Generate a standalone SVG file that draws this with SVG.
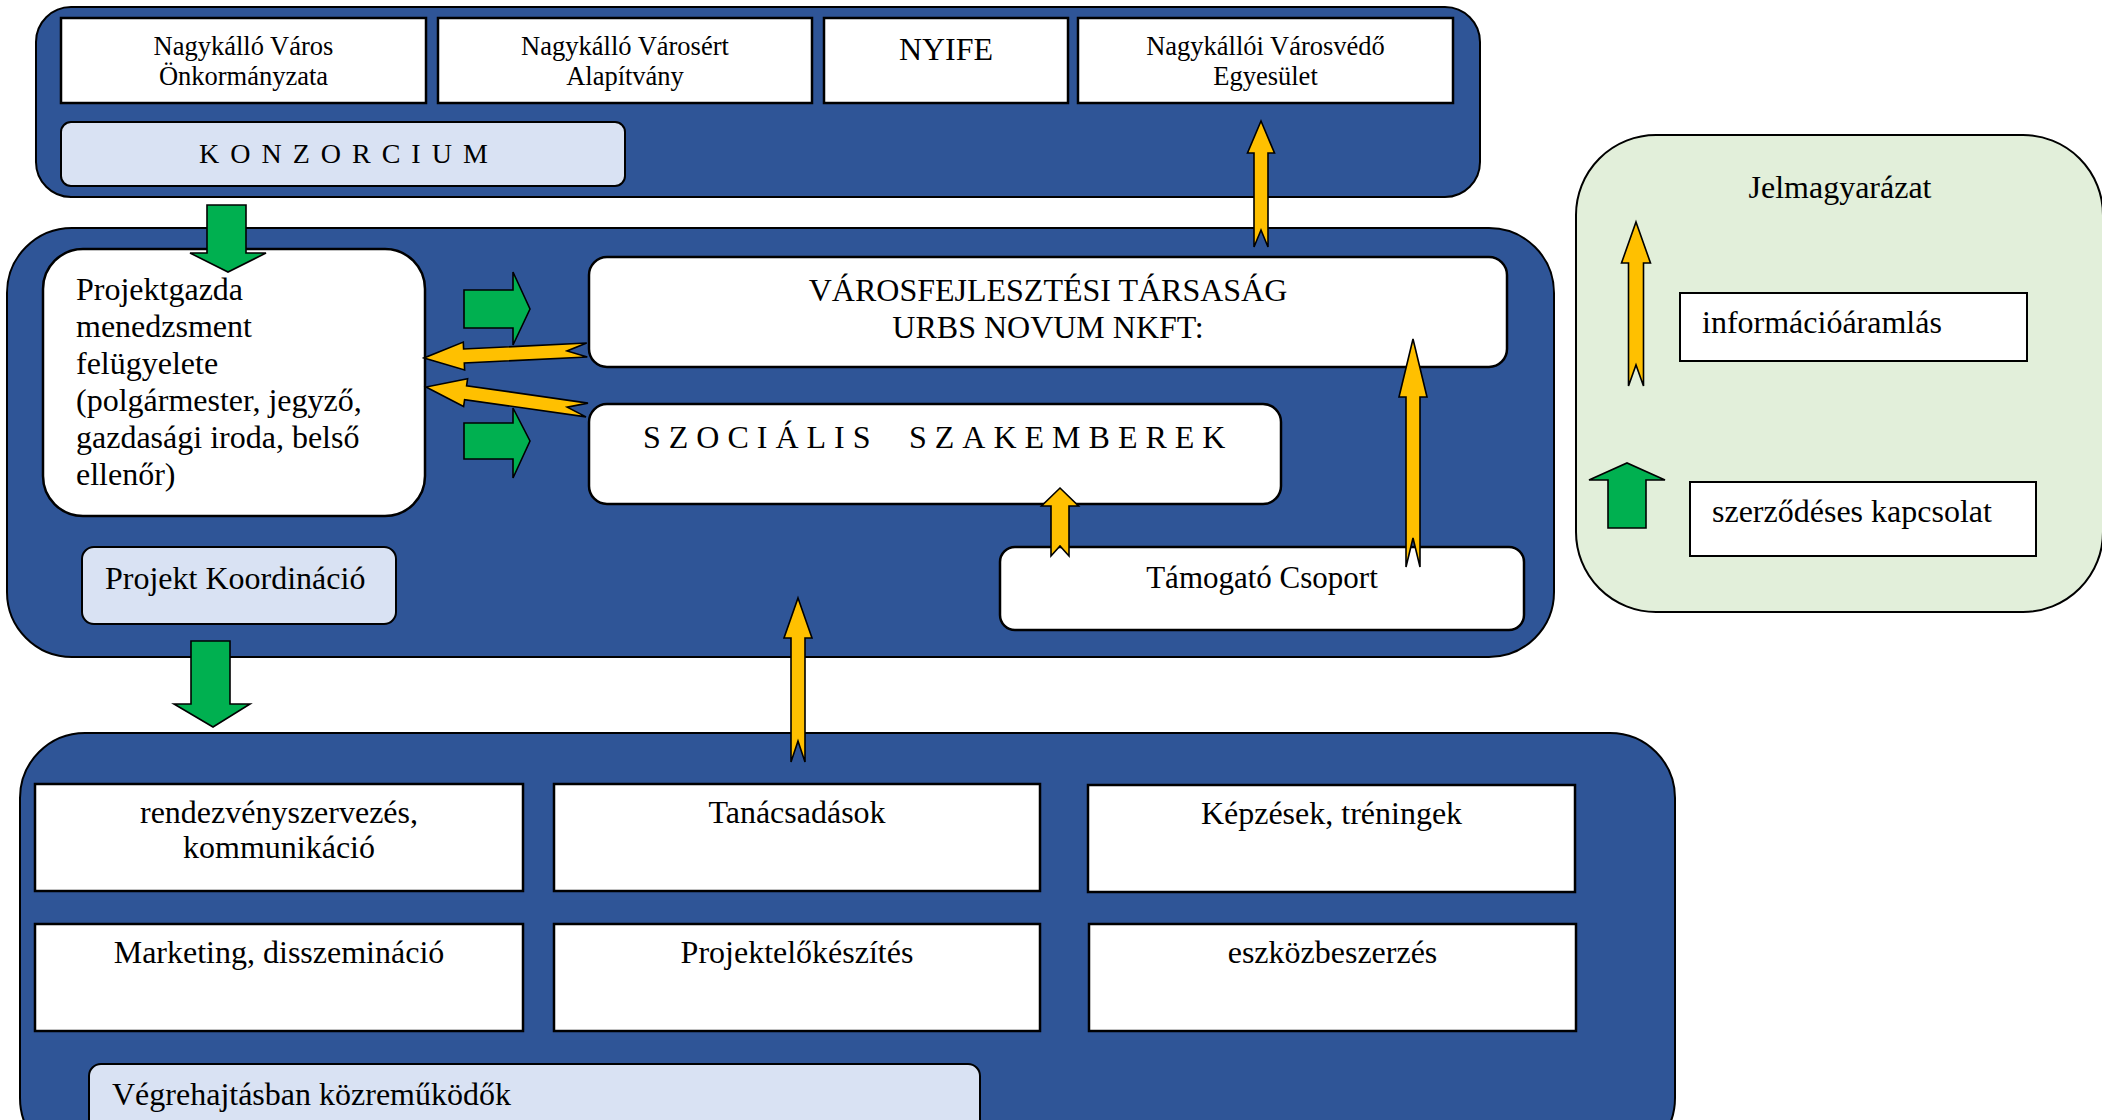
<svg xmlns="http://www.w3.org/2000/svg" width="2102" height="1120" viewBox="0 0 2102 1120">
<style>
text{font-family:"Liberation Serif","Times New Roman",serif;fill:#000}
.panel{fill:#2F5597;stroke:#000;stroke-width:2}
.box{fill:#fff;stroke:#000;stroke-width:2.5}
.lbl{fill:#D9E2F3;stroke:#000;stroke-width:2}
.legend{fill:#E2EFDA;stroke:#000;stroke-width:2}
.lbox{fill:#fff;stroke:#000;stroke-width:2}
.info{fill:#FFC000;stroke:#000;stroke-width:1.6;stroke-linejoin:miter}
.contract{fill:#00B050;stroke:#000;stroke-width:1.6}
.c{text-anchor:middle}
.s26{font-size:26.5px}
.s32{font-size:32px}
</style>
<rect width="2102" height="1120" fill="#fff"/>

<g id="konzorcium-panel">
<rect class="panel" x="36" y="7" width="1444" height="190" rx="35"/>
</g>
<g id="onkormanyzat">
<rect class="box" x="61" y="18" width="365" height="85"/>
<text class="c s26" x="243.5" y="55">Nagykálló Város</text>
<text class="c s26" x="243.5" y="85">Önkormányzata</text>
</g>
<g id="alapitvany">
<rect class="box" x="438" y="18" width="374" height="85"/>
<text class="c s26" x="625" y="55">Nagykálló Városért</text>
<text class="c s26" x="625" y="85">Alapítvány</text>
</g>
<g id="nyife">
<rect class="box" x="824" y="18" width="244" height="85"/>
<text class="c s32" x="946" y="60">NYIFE</text>
</g>
<g id="varosvedo">
<rect class="box" x="1078" y="18" width="375" height="85"/>
<text class="c s26" x="1265.5" y="55">Nagykállói Városvédő</text>
<text class="c s26" x="1265.5" y="85">Egyesület</text>
</g>
<g id="konzorcium-label">
<rect class="lbl" x="61" y="122" width="564" height="64" rx="10"/>
<text x="199" y="163" style="font-size:28px;letter-spacing:11px">KONZORCIUM</text>
</g>

<g id="koordinacio-panel">
<rect class="panel" x="7" y="228" width="1547" height="429" rx="65"/>
</g>
<g id="projektgazda">
<rect class="box" x="43" y="249" width="382" height="267" rx="40"/>
<text class="s32" x="76" y="300">Projektgazda</text>
<text class="s32" x="76" y="337">menedzsment</text>
<text class="s32" x="76" y="374">felügyelete</text>
<text class="s32" x="76" y="411">(polgármester, jegyző,</text>
<text class="s32" x="76" y="448">gazdasági iroda, belső</text>
<text class="s32" x="76" y="485">ellenőr)</text>
</g>
<g id="varosfejlesztesi">
<rect class="box" x="589" y="257" width="918" height="110" rx="18"/>
<text class="c s32" x="1048" y="301">VÁROSFEJLESZTÉSI TÁRSASÁG</text>
<text class="c s32" x="1048" y="338">URBS NOVUM NKFT:</text>
</g>
<g id="szocialis">
<rect class="box" x="589" y="404" width="692" height="100" rx="18"/>
<text class="s32" y="448" style="letter-spacing:8px"><tspan x="643">SZOCIÁLIS</tspan><tspan x="909">SZAKEMBEREK</tspan></text>
</g>
<g id="tamogato">
<rect class="box" x="1000" y="547" width="524" height="83" rx="15"/>
<text class="c" x="1262" y="588" style="font-size:31px">Támogató Csoport</text>
</g>
<g id="projekt-koordinacio">
<rect class="lbl" x="82" y="547" width="314" height="77" rx="12"/>
<text class="s32" x="105" y="589">Projekt Koordináció</text>
</g>

<g id="vegrehajtas-panel">
<rect class="panel" x="20" y="733" width="1655" height="430" rx="65"/>
</g>
<g id="rendezveny">
<rect class="box" x="35" y="784" width="488" height="107"/>
<text class="c s32" x="279" y="823">rendezvényszervezés,</text>
<text class="c s32" x="279" y="858">kommunikáció</text>
</g>
<g id="tanacsadasok">
<rect class="box" x="554" y="784" width="486" height="107"/>
<text class="c s32" x="797" y="823">Tanácsadások</text>
</g>
<g id="kepzesek">
<rect class="box" x="1088" y="785" width="487" height="107"/>
<text class="c s32" x="1331.5" y="824">Képzések, tréningek</text>
</g>
<g id="marketing">
<rect class="box" x="35" y="924" width="488" height="107"/>
<text class="c s32" x="279" y="963">Marketing, disszemináció</text>
</g>
<g id="projektelokeszites">
<rect class="box" x="554" y="924" width="486" height="107"/>
<text class="c s32" x="797" y="963">Projektelőkészítés</text>
</g>
<g id="eszkozbeszerzes">
<rect class="box" x="1089" y="924" width="487" height="107"/>
<text class="c s32" x="1332.5" y="963">eszközbeszerzés</text>
</g>
<g id="vegrehajtas-label">
<rect class="lbl" x="89" y="1064" width="891" height="80" rx="12"/>
<text class="s32" x="112" y="1105">Végrehajtásban közreműködők</text>
</g>

<g id="jelmagyarazat">
<rect class="legend" x="1576" y="135" width="527" height="477" rx="80"/>
<text class="c s32" x="1840" y="198">Jelmagyarázat</text>
<polygon class="info" points="1636,222 1650.5,263 1643.5,263 1643.5,386 1636,365 1628.5,386 1628.5,263 1621.5,263"/>
<rect class="lbox" x="1680" y="293" width="347" height="68"/>
<text class="s32" x="1702" y="333">információáramlás</text>
<polygon class="contract" points="1608,528 1608,480 1589,480 1627,463 1665,480 1646,480 1646,528"/>
<rect class="lbox" x="1690" y="482" width="346" height="74"/>
<text class="s32" x="1712" y="522">szerződéses kapcsolat</text>
</g>

<g id="connectors">
<polygon class="contract" points="207,205 246,205 246,253 266,253 228,272 190,253 207,253"/>
<polygon class="contract" points="464,290 513,290 513,272 530,309 513,345 513,328 464,328"/>
<polygon class="contract" points="464,423 513,423 513,408 530,441 513,478 513,459 464,459"/>
<polygon class="contract" points="191,641 230,641 230,704 250,704 213,727 174,704 191,704"/>
<polygon class="info" points="424,358 464.6,370 464.3,363 587.3,357 567,351 586.7,343 463.6,349 463.3,342.1"/>
<polygon class="info" points="426,387 463.6,406.5 464.6,399.6 586,416.9 567.2,407.2 588,403.1 466.6,385.7 467.6,378.8"/>
<polygon class="info" points="1261,121 1274.5,153 1268,153 1268,247 1261,230 1254,247 1254,153 1247.5,153"/>
<polygon class="info" points="1060,488 1078.5,506 1069,506 1069,556 1060,546 1051,556 1051,506 1041.5,506"/>
<polygon class="info" points="1413,339 1427,397 1420,397 1420,567 1413,538 1406,567 1406,397 1399,397"/>
<polygon class="info" points="798,598 812,638 805,638 805,762 798,741 791,762 791,638 784,638"/>
</g>
</svg>
